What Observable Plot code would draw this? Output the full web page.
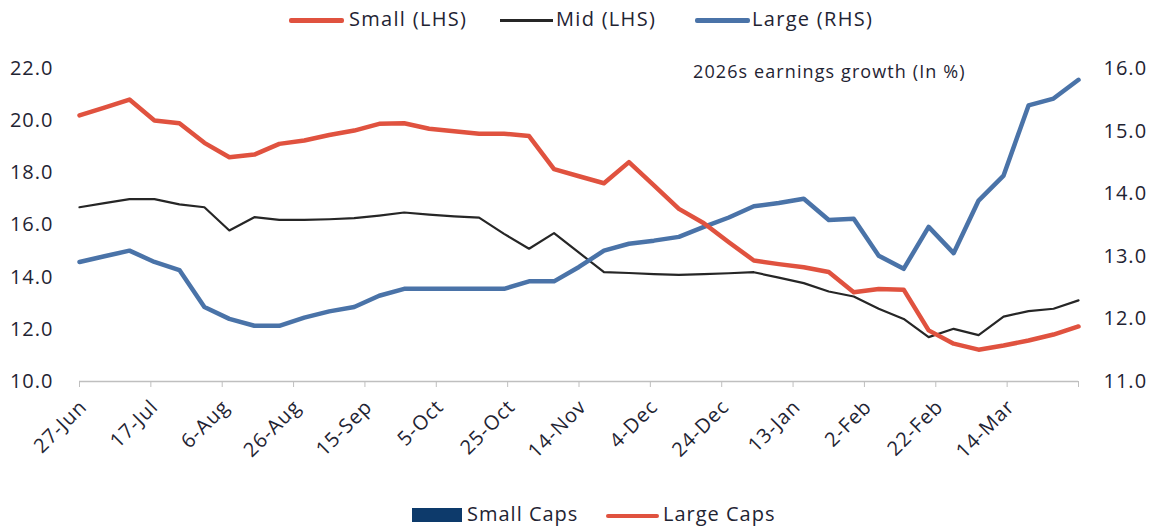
<!DOCTYPE html>
<html>
<head>
<meta charset="utf-8">
<script src="https://cdn.jsdelivr.net/npm/d3@7"></script>
<script src="https://cdn.jsdelivr.net/npm/@observablehq/plot@0.6"></script>
<style>
  body { margin: 0; background: #fff; font-family: "Open Sans", sans-serif; }
  #wrap { position: relative; width: 1152px; height: 529px; overflow: hidden; }
  #chart { position: absolute; left: 0; top: 40px; }
  .sw { position: absolute; }
  .lt { position: absolute; font-size: 20px; letter-spacing: 1.3px; color: #1f2433; white-space: nowrap; line-height: 1; }
</style>
</head>
<body>
<div id="wrap">
  <div id="chart"></div>
  <!-- top legend -->
  <div class="sw" style="left:289px;top:18px;width:55px;height:5px;background:#e0523f;border-radius:2px"></div>
  <div class="lt" style="left:349px;top:9px">Small (LHS)</div>
  <div class="sw" style="left:500px;top:19px;width:53px;height:3px;background:#262626"></div>
  <div class="lt" style="left:556px;top:9px">Mid (LHS)</div>
  <div class="sw" style="left:695px;top:18px;width:55px;height:5px;background:#4a73a8;border-radius:2px"></div>
  <div class="lt" style="left:752px;top:9px">Large (RHS)</div>
  <!-- annotation -->
  <div class="lt" style="left:693px;top:62px;font-size:18px;letter-spacing:1.1px">2026s earnings growth (In %)</div>
  <!-- bottom legend -->
  <div class="sw" style="left:412px;top:508px;width:50px;height:14px;background:#0d3a6b"></div>
  <div class="lt" style="left:467px;top:504px;letter-spacing:1px">Small Caps</div>
  <div class="sw" style="left:606px;top:514px;width:53px;height:4px;background:#e0523f;border-radius:2px"></div>
  <div class="lt" style="left:663px;top:504px;letter-spacing:1px">Large Caps</div>
</div>
<script>
const dates = [
  "2024-06-27","2024-07-04","2024-07-11","2024-07-18","2024-07-25","2024-08-01","2024-08-08",
  "2024-08-15","2024-08-22","2024-08-29","2024-09-05","2024-09-12","2024-09-19","2024-09-26",
  "2024-10-03","2024-10-10","2024-10-17","2024-10-24","2024-10-31","2024-11-07","2024-11-14",
  "2024-11-21","2024-11-28","2024-12-05","2024-12-12","2024-12-19","2024-12-26","2025-01-02",
  "2025-01-09","2025-01-16","2025-01-23","2025-01-30","2025-02-06","2025-02-13","2025-02-20",
  "2025-02-27","2025-03-06","2025-03-13","2025-03-20","2025-03-27","2025-04-03"
];
const small = [20.20,20.50,20.81,20.01,19.90,19.15,18.60,18.70,19.11,19.24,19.45,19.62,19.88,19.90,
  19.69,19.59,19.50,19.50,19.41,18.14,17.87,17.60,18.41,17.52,16.62,16.07,15.34,14.64,14.50,14.38,
  14.20,13.42,13.55,13.52,11.96,11.45,11.22,11.38,11.57,11.80,12.11];
const mid = [16.68,16.84,16.99,16.99,16.79,16.68,15.79,16.30,16.20,16.20,16.22,16.26,16.36,16.48,
  16.40,16.33,16.28,15.66,15.09,15.69,14.94,14.19,14.16,14.12,14.09,14.12,14.15,14.19,13.98,13.77,
  13.45,13.26,12.79,12.40,11.70,12.02,11.78,12.49,12.70,12.79,13.11];
const large = [12.91,13.00,13.09,12.91,12.78,12.19,12.00,11.89,11.89,12.02,12.12,12.19,12.37,12.48,
  12.48,12.48,12.48,12.48,12.60,12.60,12.83,13.09,13.20,13.25,13.31,13.47,13.62,13.80,13.85,13.92,
  13.58,13.60,13.01,12.80,13.47,13.05,13.89,14.29,15.41,15.52,15.82];
const xTickDates = ["2024-06-27","2024-07-17","2024-08-06","2024-08-26","2024-09-15","2024-10-05",
  "2024-10-25","2024-11-14","2024-12-04","2024-12-24","2025-01-13","2025-02-02","2025-02-22",
  "2025-03-14","2025-04-03"];
const xTickLabels = ["27-Jun","17-Jul","6-Aug","26-Aug","15-Sep","5-Oct","25-Oct","14-Nov","4-Dec",
  "24-Dec","13-Jan","2-Feb","22-Feb","14-Mar",""];
const leftTicks = [10,12,14,16,18,20,22];
const rightTicks = [11,12,13,14,15,16];

const parse = d3.utcParse("%Y-%m-%d");
const rows = dates.map((d, i) => ({date: parse(d), small: small[i], mid: mid[i], large: large[i]}));
// map right-hand scale [11,16] onto left-hand [10,22]
const toLeft = v => 10 + (v - 11) * 12 / 5;
const tickDates = xTickDates.map(parse);
const xLabels = tickDates.map((d, i) => ({date: d, label: xTickLabels[i]})).filter(d => d.label);

const chart = Plot.plot({
  width: 1152,
  height: 440,
  marginLeft: 79,
  marginRight: 74,
  marginTop: 28,
  marginBottom: 99,
  style: {fontFamily: "Open Sans, sans-serif", fontSize: "20px", color: "#1f2433", background: "#fff", letterSpacing: "1px", overflow: "visible"},
  x: {type: "utc", domain: [parse(dates[0]), parse(dates[dates.length - 1])]},
  y: {domain: [10, 22]},
  marks: [
    Plot.axisY({ticks: leftTicks, tickSize: 0, tickPadding: 26, tickFormat: d => d.toFixed(1), label: null}),
    Plot.axisY({anchor: "right", ticks: rightTicks.map(toLeft), tickSize: 0, tickPadding: 25,
      tickFormat: d => ((d - 10) * 5 / 12 + 11).toFixed(1), label: null}),
    Plot.ruleY([10], {stroke: "#bfbfbf", strokeWidth: 1.5}),
    Plot.axisX({ticks: tickDates, tickSize: 6, stroke: "#bfbfbf", tickFormat: () => "", label: null}),
    Plot.text(xLabels, {x: "date", y: 10, text: "label", rotate: -45, textAnchor: "end",
      lineAnchor: "middle", dx: 4, dy: 22, fontSize: 20, fill: "#1f2433"}),
    Plot.line(rows, {x: "date", y: "mid", stroke: "#262626", strokeWidth: 2.2}),
    Plot.line(rows, {x: "date", y: d => toLeft(d.large), stroke: "#4a73a8", strokeWidth: 4.5}),
    Plot.line(rows, {x: "date", y: "small", stroke: "#e0523f", strokeWidth: 4.5})
  ]
});
document.getElementById("chart").appendChild(chart);
</script>
</body>
</html>
